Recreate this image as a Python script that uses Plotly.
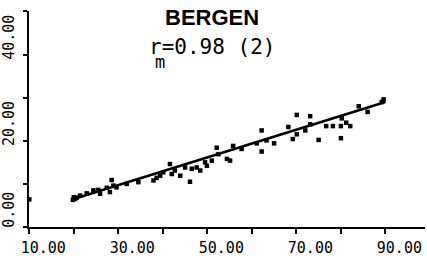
import plotly.graph_objects as go

# Data
x_vals = [10.0, 19.8, 20.3, 20.6, 20.0, 21.4, 22.9, 24.4, 25.5, 25.9, 27.4, 28.5, 28.9, 28.1, 29.6,
          31.9, 34.5, 37.9, 38.6, 39.4, 40.1, 41.6, 42.0, 42.7, 43.9, 45.0, 46.1, 46.5, 47.6,
          48.4, 49.5, 49.9, 51.0, 52.1, 52.5, 54.4, 55.1, 55.8, 57.7, 61.1,
          62.2, 62.2, 63.3, 65.0, 68.2, 69.2, 70.1, 70.1, 72.0, 73.1, 73.1, 75.0, 76.7,
          78.2, 80.0, 80.0, 80.2, 81.2, 82.1, 84.0, 86.0, 89.6, 89.2]
y_vals = [6.4, 6.3, 6.5, 6.8, 6.9, 7.3, 7.8, 8.5, 8.6, 7.7, 9.1, 10.9, 9.6, 8.1, 9.2,
          10.0, 10.4, 10.8, 11.4, 11.9, 12.7, 14.6, 12.3, 13.1, 11.9, 13.8, 10.5, 13.5, 13.8,
          13.1, 15.0, 14.2, 15.4, 18.4, 16.9, 15.8, 15.4, 18.8, 18.1, 19.4,
          22.4, 17.5, 20.1, 19.4, 23.2, 20.4, 21.5, 26.0, 22.4, 25.7, 23.8, 20.2, 23.4,
          23.4, 23.4, 20.6, 25.2, 24.2, 23.4, 28.0, 26.7, 29.6, 29.0]

fit_slope = 0.321
fit_intercept = 0.1
fit_x_start = 19.6
fit_x_end = 90.0

x_ticks = [10, 20, 30, 40, 50, 60, 70, 80, 90]
x_tick_text = ["10.00", "", "30.00", "", "50.00", "", "70.00", "", "90.00"]
y_ticks = [0, 10, 20, 30, 40, 50]
y_tick_text = ["0.00", "", "20.00", "", "40.00", ""]

title_text = "<b>BERGEN</b>"
r_text = "r=0.98 (2)"
r_sub = "m"

fig = go.Figure()
fig.add_trace(go.Scatter(
    x=x_vals, y=y_vals, mode="markers",
    marker=dict(symbol="square", size=4.5, color="black"),
    cliponaxis=False, showlegend=False))
fig.add_trace(go.Scatter(
    x=[fit_x_start, fit_x_end],
    y=[fit_intercept + fit_slope * fit_x_start, fit_intercept + fit_slope * fit_x_end],
    mode="lines", line=dict(color="black", width=2.6), showlegend=False))

mono = "DejaVu Sans Mono"
fig.update_layout(
    width=427, height=259,
    margin=dict(l=29, r=2, t=11, b=32, autoexpand=False),
    paper_bgcolor="white", plot_bgcolor="white",
    xaxis=dict(range=[9.93, 98.9], tickvals=x_ticks, ticktext=x_tick_text,
               showline=True, linecolor="black", linewidth=2, automargin=False,
               ticks="outside", ticklen=5, tickwidth=2, tickcolor="black",
               showgrid=False, zeroline=False,
               tickfont=dict(family=mono, size=15, color="black"),
               ticklabelshift=14, ticklabelstandoff=1),
    yaxis=dict(range=[0, 50.1], tickvals=y_ticks, ticktext=y_tick_text,
               showline=True, linecolor="black", linewidth=2, automargin=False,
               ticks="outside", ticklen=4, tickwidth=2, tickcolor="black",
               showgrid=False, zeroline=False, tickangle=-90,
               tickfont=dict(family=mono, size=15, color="black"),
               ticklabelshift=-15, ticklabelstandoff=3),
    annotations=[
        dict(text=title_text, xref="paper", yref="paper", x=(212 - 29) / 396, y=(259 - 32 - 17) / 216,
             showarrow=False, xanchor="center", yanchor="middle",
             font=dict(family="Liberation Sans", size=22, color="black")),
        dict(text=r_text, xref="paper", yref="paper", x=(147 - 29) / 396, y=(259 - 32 - 47) / 216,
             showarrow=False, xanchor="left", yanchor="middle",
             font=dict(family=mono, size=21, color="black")),
        dict(text=r_sub, xref="paper", yref="paper", x=(160 - 29) / 396, y=(259 - 32 - 62) / 216,
             showarrow=False, xanchor="center", yanchor="middle",
             font=dict(family=mono, size=17, color="black")),
    ],
)

fig.write_html("out.html", config={"displayModeBar": False},
               post_script="document.body.style.margin='0';document.body.style.padding='0';")
